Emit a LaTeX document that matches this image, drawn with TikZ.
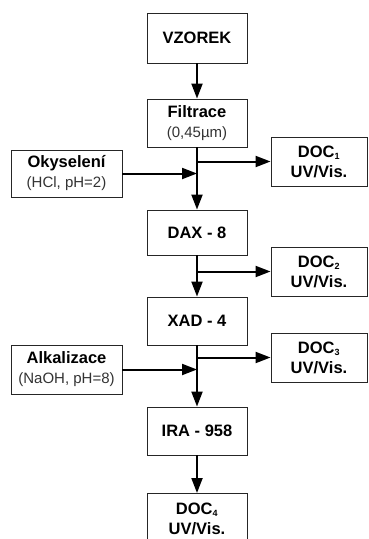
\documentclass[tikz,border=0pt]{standalone}
\usepackage{fontspec}
\setmainfont{Liberation Sans}
\usetikzlibrary{arrows.meta}
\begin{document}
\begin{tikzpicture}[x=1pt,y=-1pt,
  box/.style={draw=black!85,line width=0.9pt,rectangle,inner sep=0pt,align=center,fill=white,
    font=\fontsize{16.5}{20}\selectfont\bfseries},
  flow/.style={line width=2pt,-{Triangle[length=15pt,width=11pt]}}]
\useasboundingbox (0,0) rectangle (368,539);
\clip (0,0) rectangle (368,539);
\newcommand{\doctext}[1]{DOC\textsubscript{\fontsize{9}{9}\selectfont #1}\\UV/Vis.}
\newcommand{\subtxt}[1]{{\fontsize{15}{20}\mdseries\selectfont\color{black!80}#1}}
\node[box,minimum width=100pt,minimum height=50pt] (vz) at (197,38) {VZOREK};
\node[box,minimum width=100pt,minimum height=48pt] (fil) at (197,123) {Filtrace\\\subtxt{(0,45µm)}};
\node[box,minimum width=111pt,minimum height=47pt] (oky) at (66.5,173.5) {Okyselení\\\subtxt{(HCl, pH=2)}};
\node[box,minimum width=96pt,minimum height=49pt] (doc1) at (319,161.5) {\doctext{1}};
\node[box,minimum width=100pt,minimum height=45pt] (dax) at (197,232.5) {DAX - 8};
\node[box,minimum width=96pt,minimum height=49pt] (doc2) at (319,271.5) {\doctext{2}};
\node[box,minimum width=100pt,minimum height=48pt] (xad) at (197,321) {XAD - 4};
\node[box,minimum width=96pt,minimum height=49pt] (doc3) at (319,357.5) {\doctext{3}};
\node[box,minimum width=111pt,minimum height=49pt] (alk) at (66.5,369.5) {Alkalizace\\\subtxt{(NaOH, pH=8)}};
\node[box,minimum width=100pt,minimum height=48pt] (ira) at (197,431) {IRA - 958};
\node[box,minimum width=100pt,minimum height=50pt,anchor=north] (doc4) at (197,493) {\doctext{4}};
% connectors
\draw[flow] (vz.south) -- (fil.north);
\draw[flow] (fil.south) -- (dax.north);
\coordinate (j1) at (fil.south |- doc1.west);
\draw[flow] (j1) -- (doc1.west);
\coordinate (j2) at (fil.south |- oky.east);
\draw[flow] (oky.east) -- (j2);
\draw[flow] (dax.south) -- (xad.north);
\coordinate (j3) at (dax.south |- doc2.west);
\draw[flow] (j3) -- (doc2.west);
\draw[flow] (xad.south) -- (ira.north);
\coordinate (j4) at (xad.south |- doc3.west);
\draw[flow] (j4) -- (doc3.west);
\coordinate (j5) at (xad.south |- alk.east);
\draw[flow] (alk.east) -- (j5);
\draw[flow] (ira.south) -- (doc4.north);
\end{tikzpicture}
\end{document}
